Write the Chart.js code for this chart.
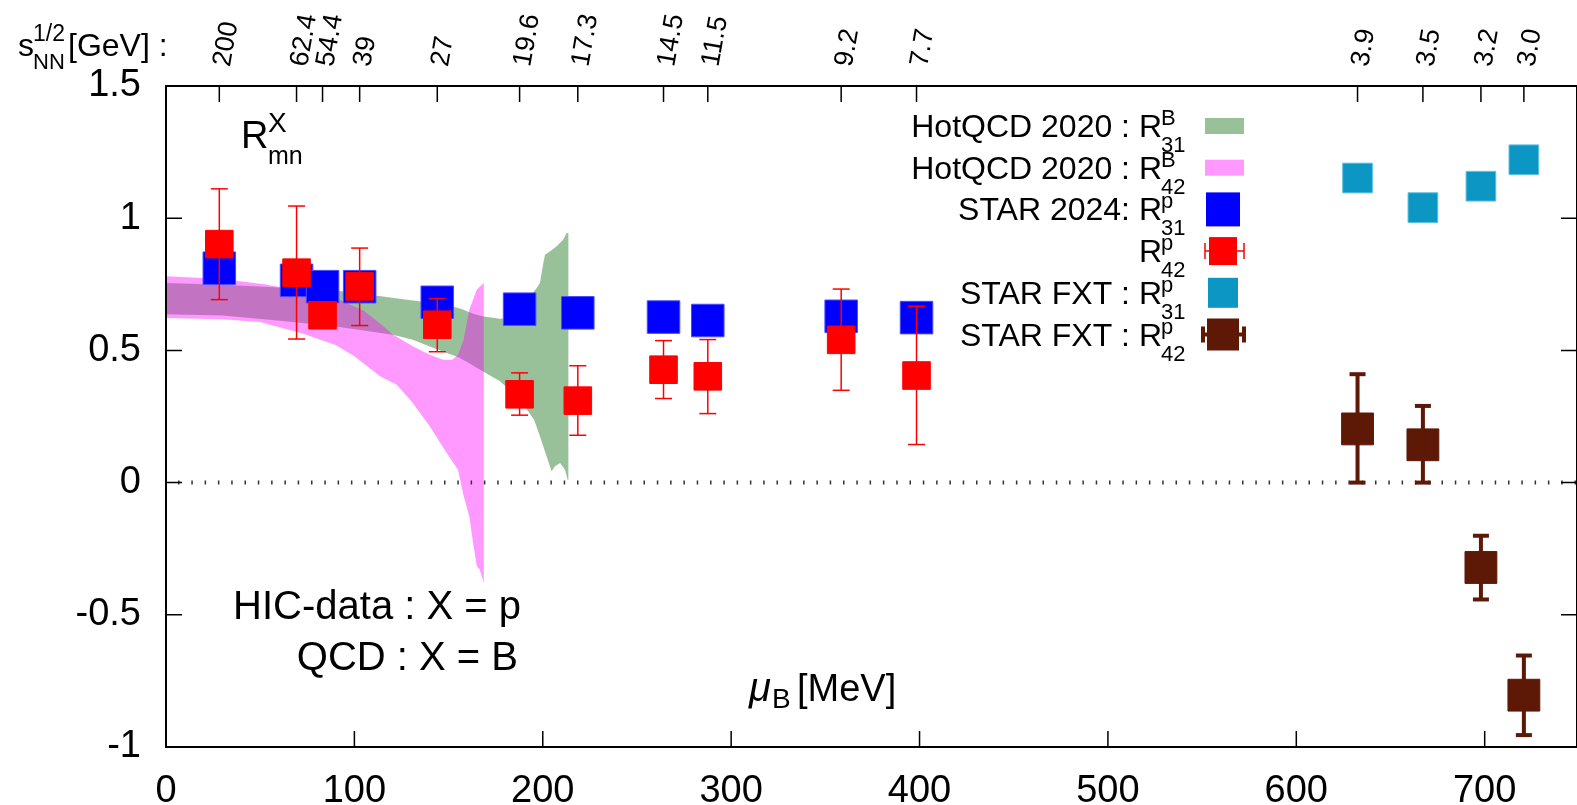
<!DOCTYPE html>
<html>
<head>
<meta charset="utf-8">
<script src="https://cdn.jsdelivr.net/npm/chart.js@4.4.1/dist/chart.umd.min.js"></script>
<style>
  html, body { margin: 0; padding: 0; background: #fff; overflow: hidden; }
  #wrap { width: 1577px; height: 805px; position: relative; }
  canvas { display: block; }
</style>
</head>
<body>
<div id="wrap"><canvas id="chartRatio"></canvas></div>
<script>
var FONT = "'Liberation Sans', Arial, sans-serif";

// collision energies (top axis) and their mu_B positions
var gevLabels = ["200", "62.4", "54.4", "39", "27", "19.6", "17.3", "14.5", "11.5", "9.2", "7.7", "3.9", "3.5", "3.2", "3.0"];
var gevMu = [28.3, 69.3, 83.1, 102.8, 144, 187.7, 218.6, 264.1, 287.6, 358.4, 398.4, 632.5, 667.2, 698, 720.8];
var muTicks = [0, 100, 200, 300, 400, 500, 600, 700];
var yTicks = [-1, -0.5, 0, 0.5, 1, 1.5];

// STAR 2024 (collider)
var starMu = gevMu.slice(0, 11);
var starR31 = [0.811, 0.765, 0.741, 0.741, 0.682, 0.656, 0.642, 0.626, 0.613, 0.629, 0.624];
var starR42 = [0.902, 0.794, 0.633, 0.742, 0.597, 0.334, 0.310, 0.427, 0.402, 0.540, 0.405];
var starR42Lo = [0.692, 0.543, null, 0.594, 0.495, 0.255, 0.179, 0.318, 0.261, 0.349, 0.144];
var starR42Hi = [1.111, 1.046, null, 0.887, 0.696, 0.415, 0.442, 0.537, 0.541, 0.732, 0.667];

// STAR FXT
var fxtMu = gevMu.slice(11);
var fxtR31 = [1.152, 1.040, 1.121, 1.221];
var fxtR42 = [0.203, 0.143, -0.321, -0.804];
var fxtR42Lo = [0.0, 0.0, -0.442, -0.955];
var fxtR42Hi = [0.410, 0.290, -0.201, -0.654];

// HotQCD 2020 bands
var r31TopMu = [0, 30, 60, 90, 114, 130, 149, 157, 163, 168, 177, 181, 188, 196.8, 198.5, 200.3, 201.2, 203.9, 207.4, 210.9, 212.7, 213.6];
var r31TopY = [0.755, 0.748, 0.738, 0.727, 0.705, 0.69, 0.673, 0.657, 0.639, 0.629, 0.62, 0.621, 0.66, 0.736, 0.755, 0.831, 0.862, 0.875, 0.894, 0.919, 0.944, 0.944];
var r31BotMu = [0, 30, 62, 90, 114, 121, 131, 140, 149, 155, 160, 166.7, 177.3, 187.9, 195.4, 198.5, 202, 204.7, 206.5, 209.2, 211.8, 213.2, 213.6];
var r31BotY = [0.637, 0.632, 0.611, 0.59, 0.566, 0.558, 0.54, 0.515, 0.49, 0.475, 0.455, 0.427, 0.383, 0.314, 0.238, 0.175, 0.1, 0.043, 0.062, 0.074, 0.049, 0.011, 0.011];

var r42TopMu = [0, 30, 53, 75, 92, 105, 114, 120, 131, 140, 147, 152, 155, 158, 161, 165, 168.7];
var r42TopY = [0.780, 0.770, 0.749, 0.72, 0.692, 0.65, 0.600, 0.562, 0.516, 0.484, 0.465, 0.465, 0.484, 0.541, 0.654, 0.730, 0.755];
var r42BotMu = [0, 30, 50, 72, 90, 100, 113.6, 122.5, 131, 140, 149, 155, 158, 161, 163, 165, 166.5, 168.7];
var r42BotY = [0.623, 0.618, 0.607, 0.565, 0.52, 0.478, 0.402, 0.37, 0.301, 0.213, 0.112, 0.049, -0.051, -0.127, -0.228, -0.316, -0.329, -0.379];

var legendText = ["HotQCD 2020 : R", "HotQCD 2020 : R", "STAR 2024: R", "R", "STAR FXT : R", "STAR FXT : R"];
var legendSup = ["B", "B", "p", "p", "p", "p"];
var legendSub = ["31", "42", "31", "42", "31", "42"];

var cGreen = "rgba(0,100,0,0.4)";
var cPink = "rgba(255,0,255,0.4)";
var cBlue = "#0000ff";
var cRed = "#ff0000";
var cCyan = "#0c96c4";
var cBrown = "#5d1806";

function pts(xs, ys) {
    return xs.map(function (x, i) { return { x: x, y: ys[i] }; });
}

function band(topX, topY, botX, botY) {
    var upper = pts(topX, topY);
    var lower = pts(botX, botY).reverse();
    return upper.concat(lower);
}

function errs(xs, lo, hi) {
    var out = [];
    xs.forEach(function (x, i) {
        if (lo[i] === null) return;
        out.push({ x: x, y: lo[i] }, { x: x, y: hi[i] }, { x: x, y: null });
    });
    return out;
}

function txt(ctx, s, x, y, size, align, style) {
    ctx.font = (style ? style + " " : "") + size + "px " + FONT;
    ctx.textAlign = align || "left";
    ctx.textBaseline = "alphabetic";
    ctx.fillText(s, x, y);
}

var framePlugin = {
    id: "frame",
    afterDatasetsDraw: function (chart) {
        var ctx = chart.ctx, a = chart.chartArea, sx = chart.scales.x, sy = chart.scales.y;
        ctx.save();
        ctx.strokeStyle = "#000";
        ctx.lineWidth = 1.5;
        ctx.beginPath();
        muTicks.forEach(function (v) {
            var px = sx.getPixelForValue(v);
            ctx.moveTo(px, a.bottom); ctx.lineTo(px, a.bottom - 16);
        });
        gevMu.forEach(function (v) {
            var px = sx.getPixelForValue(v);
            ctx.moveTo(px, a.top); ctx.lineTo(px, a.top + 16);
        });
        yTicks.forEach(function (v) {
            var py = sy.getPixelForValue(v);
            ctx.moveTo(a.left, py); ctx.lineTo(a.left + 16, py);
            ctx.moveTo(a.right, py); ctx.lineTo(a.right - 16, py);
        });
        ctx.stroke();
        ctx.lineWidth = 2;
        ctx.strokeRect(a.left, a.top, a.right - a.left, a.bottom - a.top);
        ctx.restore();
    },
    afterDraw: function (chart) {
        var ctx = chart.ctx;
        ctx.save();
        ctx.fillStyle = "#000";
        // top-left energy label
        txt(ctx, "s", 18, 56, 32);
        txt(ctx, "1/2", 33, 41, 23);
        txt(ctx, "NN", 33, 69, 22);
        txt(ctx, "[GeV] :", 68, 56, 32);
        // R^X_mn
        txt(ctx, "R", 241, 148, 38);
        txt(ctx, "X", 268, 132, 28);
        txt(ctx, "mn", 268, 164, 25);
        // notes
        txt(ctx, "HIC-data : X = p", 521, 619, 40, "right");
        txt(ctx, "QCD : X = B", 518, 670, 40, "right");
        // x title
        txt(ctx, "\u03bc", 749, 701, 40, "left", "italic");
        txt(ctx, "B", 772, 708, 28);
        txt(ctx, "[MeV]", 797, 701, 38);

        // legend
        var cx = 1223;
        legendText.forEach(function (s, i) {
            var y = 137 + i * 41.7;
            ctx.fillStyle = "#000";
            txt(ctx, s, 1162, y, 32, "right");
            txt(ctx, legendSup[i], 1161, y - 12, 22);
            txt(ctx, legendSub[i], 1161, y + 15, 22);
            var cy = y - 11;
            if (i === 0 || i === 1) {
                ctx.fillStyle = i === 0 ? cGreen : cPink;
                ctx.fillRect(1205, cy - 8, 39, 16);
            } else if (i === 2) {
                ctx.fillStyle = cBlue;
                ctx.fillRect(cx - 17, cy - 17, 34, 34);
            } else if (i === 3) {
                ctx.strokeStyle = cRed; ctx.lineWidth = 1.5;
                ctx.beginPath();
                ctx.moveTo(1205, cy); ctx.lineTo(1244, cy);
                ctx.moveTo(1205, cy - 8); ctx.lineTo(1205, cy + 8);
                ctx.moveTo(1244, cy - 8); ctx.lineTo(1244, cy + 8);
                ctx.stroke();
                ctx.fillStyle = cRed;
                ctx.fillRect(cx - 14, cy - 14, 28, 28);
            } else if (i === 4) {
                ctx.fillStyle = cCyan;
                ctx.fillRect(cx - 15, cy - 15, 30, 30);
            } else {
                ctx.strokeStyle = cBrown; ctx.lineWidth = 4;
                ctx.beginPath();
                ctx.moveTo(1203, cy); ctx.lineTo(1244, cy);
                ctx.moveTo(1203, cy - 8); ctx.lineTo(1203, cy + 8);
                ctx.moveTo(1244, cy - 8); ctx.lineTo(1244, cy + 8);
                ctx.stroke();
                ctx.fillStyle = cBrown;
                ctx.fillRect(cx - 16, cy - 16, 32, 32);
            }
        });
        ctx.restore();
    }
};

function noPad(s) {
    s.paddingLeft = 0;
    s.paddingRight = 0;
}

var ctx = document.getElementById("chartRatio").getContext("2d");

var myChart = new Chart(ctx, {
    type: "scatter",
    data: {
        datasets: [
            {
                label: "STAR FXT R42 err",
                data: errs(fxtMu, fxtR42Lo, fxtR42Hi),
                showLine: true, spanGaps: false,
                borderColor: cBrown, borderWidth: 4,
                pointStyle: "line", pointRadius: 8, pointBorderWidth: 4, pointBorderColor: cBrown,
                order: 0
            },
            {
                label: "STAR R42 err",
                data: errs(starMu, starR42Lo, starR42Hi),
                showLine: true, spanGaps: false,
                borderColor: cRed, borderWidth: 1.5,
                pointStyle: "line", pointRadius: 8.5, pointBorderWidth: 1.5, pointBorderColor: cRed,
                order: 0
            },
            {
                label: "STAR FXT R42",
                data: pts(fxtMu, fxtR42),
                pointStyle: "rect", pointRadius: 22.5, pointBorderWidth: 1,
                backgroundColor: cBrown, borderColor: cBrown,
                order: 1
            },
            {
                label: "STAR 2024 R42",
                data: pts(starMu, starR42),
                pointStyle: "rect", pointRadius: 19.5, pointBorderWidth: 1,
                backgroundColor: cRed, borderColor: cRed,
                order: 1
            },
            {
                label: "STAR FXT R31",
                data: pts(fxtMu, fxtR31),
                pointStyle: "rect", pointRadius: 21, pointBorderWidth: 1,
                backgroundColor: cCyan, borderColor: "#5fc0e0",
                order: 2
            },
            {
                label: "STAR 2024 R31",
                data: pts(starMu, starR31),
                pointStyle: "rect", pointRadius: 23, pointBorderWidth: 1,
                backgroundColor: cBlue, borderColor: "#4a4aff",
                order: 2
            },
            {
                label: "zero",
                data: [{ x: 0, y: 0 }, { x: 749, y: 0 }],
                showLine: true, pointRadius: 0,
                borderColor: "#333", borderWidth: 4, borderDash: [1.5, 11.8], borderDashOffset: -12,
                order: 4
            },
            {
                label: "HotQCD R42",
                data: band(r42TopMu, r42TopY, r42BotMu, r42BotY),
                showLine: true, pointRadius: 0, borderWidth: 0,
                backgroundColor: cPink, fill: "shape",
                order: 5
            },
            {
                label: "HotQCD R31",
                data: band(r31TopMu, r31TopY, r31BotMu, r31BotY),
                showLine: true, pointRadius: 0, borderWidth: 0,
                backgroundColor: cGreen, fill: "shape",
                order: 6
            }
        ]
    },
    options: {
        responsive: true,
        maintainAspectRatio: false,
        animation: false,
        events: [],
        layout: { padding: 0, autoPadding: false },
        plugins: {
            legend: { display: false },
            tooltip: { enabled: false }
        },
        scales: {
            x: {
                type: "linear", position: "bottom", min: 0, max: 749,
                grid: { display: false, drawTicks: false },
                border: { display: false },
                afterBuildTicks: function (s) { s.ticks = muTicks.map(function (v) { return { value: v }; }); },
                afterFit: function (s) { s.height = 58; noPad(s); },
                ticks: { color: "#000", font: { family: FONT, size: 38 }, padding: 22, autoSkip: false, maxRotation: 0 }
            },
            x2: {
                type: "linear", position: "top", min: 0, max: 749,
                grid: { display: false, drawTicks: false },
                border: { display: false },
                afterBuildTicks: function (s) { s.ticks = gevMu.map(function (v) { return { value: v }; }); },
                afterFit: function (s) { s.height = 86; noPad(s); },
                ticks: {
                    color: "#000", font: { family: FONT, size: 27 }, padding: 17, autoSkip: false,
                    minRotation: 80, maxRotation: 80, labelOffset: 35,
                    callback: function (v, i) { return gevLabels[i]; }
                }
            },
            y: {
                type: "linear", position: "left", min: -1, max: 1.5,
                grid: { display: false, drawTicks: false },
                border: { display: false },
                afterBuildTicks: function (s) { s.ticks = yTicks.map(function (v) { return { value: v }; }); },
                afterFit: function (s) { s.width = 166; },
                ticks: {
                    color: "#000", font: { family: FONT, size: 38 }, padding: 25,
                    callback: function (v) { return String(v); }
                }
            }
        }
    },
    plugins: [framePlugin]
});
</script>
</body>
</html>
